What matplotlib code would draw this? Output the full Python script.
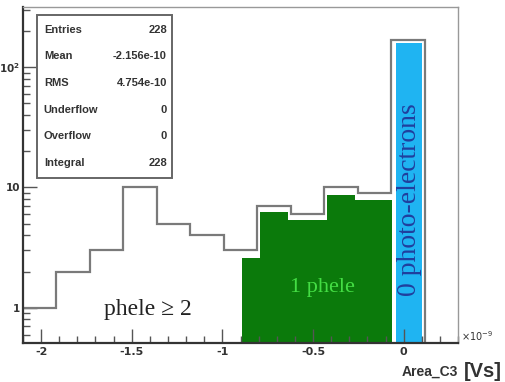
import numpy as np
import matplotlib.pyplot as plt
from matplotlib.ticker import FixedLocator

# histogram Area_C3 (units of 1e-9 Vs), 13 bins from -2.1 to 0.3
bin_lo, bin_hi, n_bins = -2.1, 0.3, 13
counts = [1, 2, 3, 10, 5, 4, 3, 7, 6, 10, 9, 168, 0]

# hand coloured regions
green_edges = [-0.89, -0.79, -0.637, -0.423, -0.27, -0.066]
green_vals = [2.6, 6.3, 5.4, 8.7, 7.9]
blue_edges = [-0.044, 0.099]
blue_vals = [158]

stats_names = ["Entries", "Mean", "RMS", "Underflow", "Overflow", "Integral"]
stats_vals = ["228", "-2.156e-10", "4.754e-10", "0", "0", "228"]

xticks = [-2, -1.5, -1, -0.5, 0]
xtick_labels = ["-2", "-1.5", "-1", "-0.5", "0"]
yticks = [1, 10, 100]
ytick_labels = ["1", "10", r"$\mathbf{10^2}$"]

ymin, ymax = 0.51, 316

fig = plt.figure(figsize=(5.05, 3.82), dpi=100)
ax = fig.add_axes([0.0455, 0.102, 0.8615, 0.880])

edges = np.linspace(bin_lo, bin_hi, n_bins + 1)
c = np.array(counts, dtype=float)
c = np.where(c > 0, c, ymin * 0.9)

ax.stairs(green_vals, green_edges, fill=True, baseline=ymin * 0.9,
          color="#0b7a0b", zorder=1)
ax.stairs(blue_vals, blue_edges, fill=True, baseline=ymin * 0.9,
          color="#1fb4f2", zorder=1)
ax.stairs(c, edges, baseline=None, color="#7a7a7a", lw=1.6, zorder=2)

ax.set_yscale("log")
ax.set_xlim(bin_lo, bin_hi)
ax.set_ylim(ymin, ymax)

ax.set_xticks(xticks, xtick_labels)
ax.xaxis.set_minor_locator(FixedLocator(np.arange(-2.1, 0.31, 0.1)))
ax.set_yticks(yticks, ytick_labels)
ax.tick_params(which="major", direction="in", length=10, width=1.0,
               color="#555555", labelsize=8, pad=3)
ax.tick_params(axis="y", which="major", labelsize=7.5, pad=2)
ax.tick_params(which="minor", direction="in", length=5, width=1.0,
               color="#555555")
ax.tick_params(axis="y", which="minor", labelleft=False)
for lab in ax.get_xticklabels() + ax.get_yticklabels():
    lab.set_fontweight("bold")
    lab.set_color("#333333")

for s in ["left", "bottom"]:
    ax.spines[s].set_linewidth(1.6)
    ax.spines[s].set_color("#333333")
for s in ["top", "right"]:
    ax.spines[s].set_linewidth(1.0)
    ax.spines[s].set_color("#999999")

# annotations
ax.text(-1.41, 0.97, "phele \u2265 2", family="Liberation Serif", fontsize=17,
        color="#222222", ha="center", va="center", zorder=5)
ax.text(-0.45, 1.47, "1 phele", family="Liberation Serif", fontsize=16,
        color="#44dd44", ha="center", va="center", zorder=5)
ax.text(0.03, 7.9, "0 photo-electrons", family="Liberation Serif",
        fontsize=20, color="#1f3f9e", rotation=90, ha="center", va="center",
        zorder=5)

# stats box
x0, x1, ytop, ybot = 0.032, 0.343, 0.976, 0.491
ax.add_patch(plt.Rectangle((x0, ybot), x1 - x0, ytop - ybot,
                           transform=ax.transAxes, facecolor="white",
                           edgecolor="#666666", lw=1.4, zorder=6))
row_y = np.linspace(0.932, 0.535, len(stats_names))
for name, val, yy in zip(stats_names, stats_vals, row_y):
    ax.text(0.048, yy, name, transform=ax.transAxes, fontsize=8,
            family="Liberation Sans", fontweight="bold", color="#333333",
            va="center", ha="left", zorder=7)
    ax.text(0.331, yy, val, transform=ax.transAxes, fontsize=8,
            family="Liberation Sans", fontweight="bold", color="#333333",
            va="center", ha="right", zorder=7)

# axis label and exponent
fig.text(0.913, 0.120, r"$\times10^{-9}$", fontsize=7, color="#333333",
         va="center", ha="left")
fig.text(0.795, 0.026, "Area_C3", fontsize=10, family="Liberation Sans",
         fontweight="bold", color="#333333", va="center", ha="left")
fig.text(0.918, 0.028, "[Vs]", fontsize=14.5, family="Liberation Sans",
         fontweight="bold", color="#333333", va="center", ha="left")

fig.savefig("out.png", dpi=100)
